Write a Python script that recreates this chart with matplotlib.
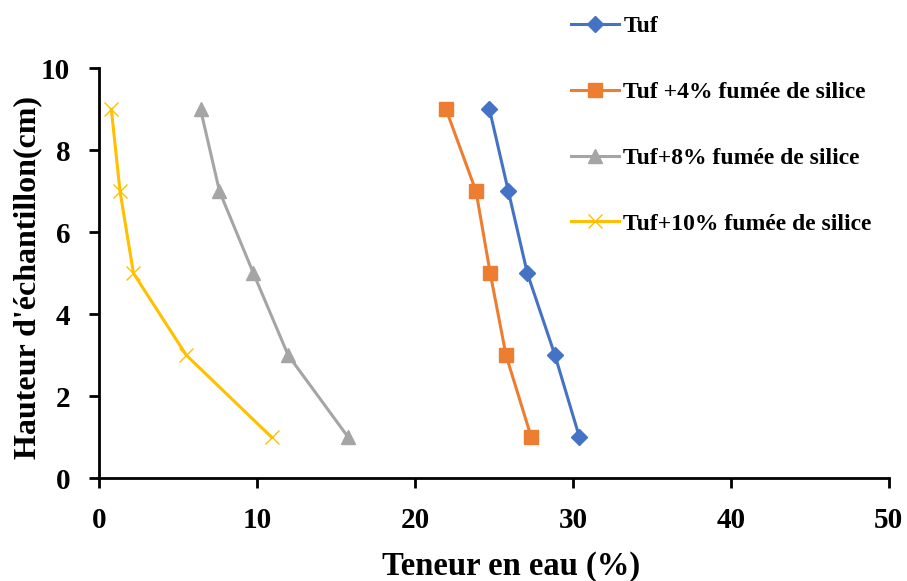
import matplotlib.pyplot as plt

# hauteur des échantillons (cm)
hauteur = [9, 7, 5, 3, 1]

# teneur en eau (%) pour chaque mélange
tuf = [24.7, 25.9, 27.1, 28.85, 30.4]
tuf_4 = [21.95, 23.85, 24.75, 25.75, 27.35]
tuf_8 = [6.4, 7.6, 9.75, 11.95, 15.75]
tuf_10 = [0.75, 1.3, 2.15, 5.5, 10.9]

labels = ['Tuf', 'Tuf +4% fumée de silice', 'Tuf+8% fumée de silice', 'Tuf+10% fumée de silice']

plt.rcParams['font.family'] = ['Liberation Serif', 'DejaVu Serif']
plt.rcParams['font.weight'] = 'bold'

fig = plt.figure(figsize=(9.07, 5.81), dpi=100)
ax = fig.add_axes([0.1097, 0.177, 0.8703, 0.7054])

ax.plot(tuf, hauteur, color='#4472C4', lw=2.2, marker='D', ms=8.5, label=labels[0])
ax.plot(tuf_4, hauteur, color='#ED7D31', lw=2.2, marker='s', ms=10, label=labels[1])
ax.plot(tuf_8, hauteur, color='#A5A5A5', lw=2.2, marker='^', ms=10, label=labels[2])
ax.plot(tuf_10, hauteur, color='#FFC000', lw=2.2, marker='x', ms=10.5, mew=1, label=labels[3])

ax.set_xlim(0, 50)
ax.set_ylim(0, 10)
ax.set_xticks(range(0, 51, 10))
ax.set_yticks(range(0, 11, 2))

for s in ['top', 'right']:
    ax.spines[s].set_visible(False)
for s in ['left', 'bottom']:
    ax.spines[s].set_linewidth(2)
ax.tick_params(axis='both', direction='out', length=7, width=2, labelsize=21)
ax.tick_params(axis='x', pad=14)
ax.tick_params(axis='y', pad=14)
for t in ax.get_xticklabels() + ax.get_yticklabels():
    t.set_fontweight('bold')

ax.set_xlabel('Teneur en eau (%)', fontsize=23.5, fontweight='bold')
ax.set_ylabel("Hauteur d'échantillon(cm)", fontsize=23, fontweight='bold')
ax.xaxis.set_label_coords(0.5215, -0.177)
ax.yaxis.set_label_coords(-0.072, 0.49)

fig.legend(loc='upper left', bbox_to_anchor=(0.6066, 1.01), frameon=False,
           prop={'weight': 'bold', 'size': 17}, labelspacing=1.88,
           handlelength=2.0, handletextpad=0.2)

fig.savefig('out.png', dpi=100)
